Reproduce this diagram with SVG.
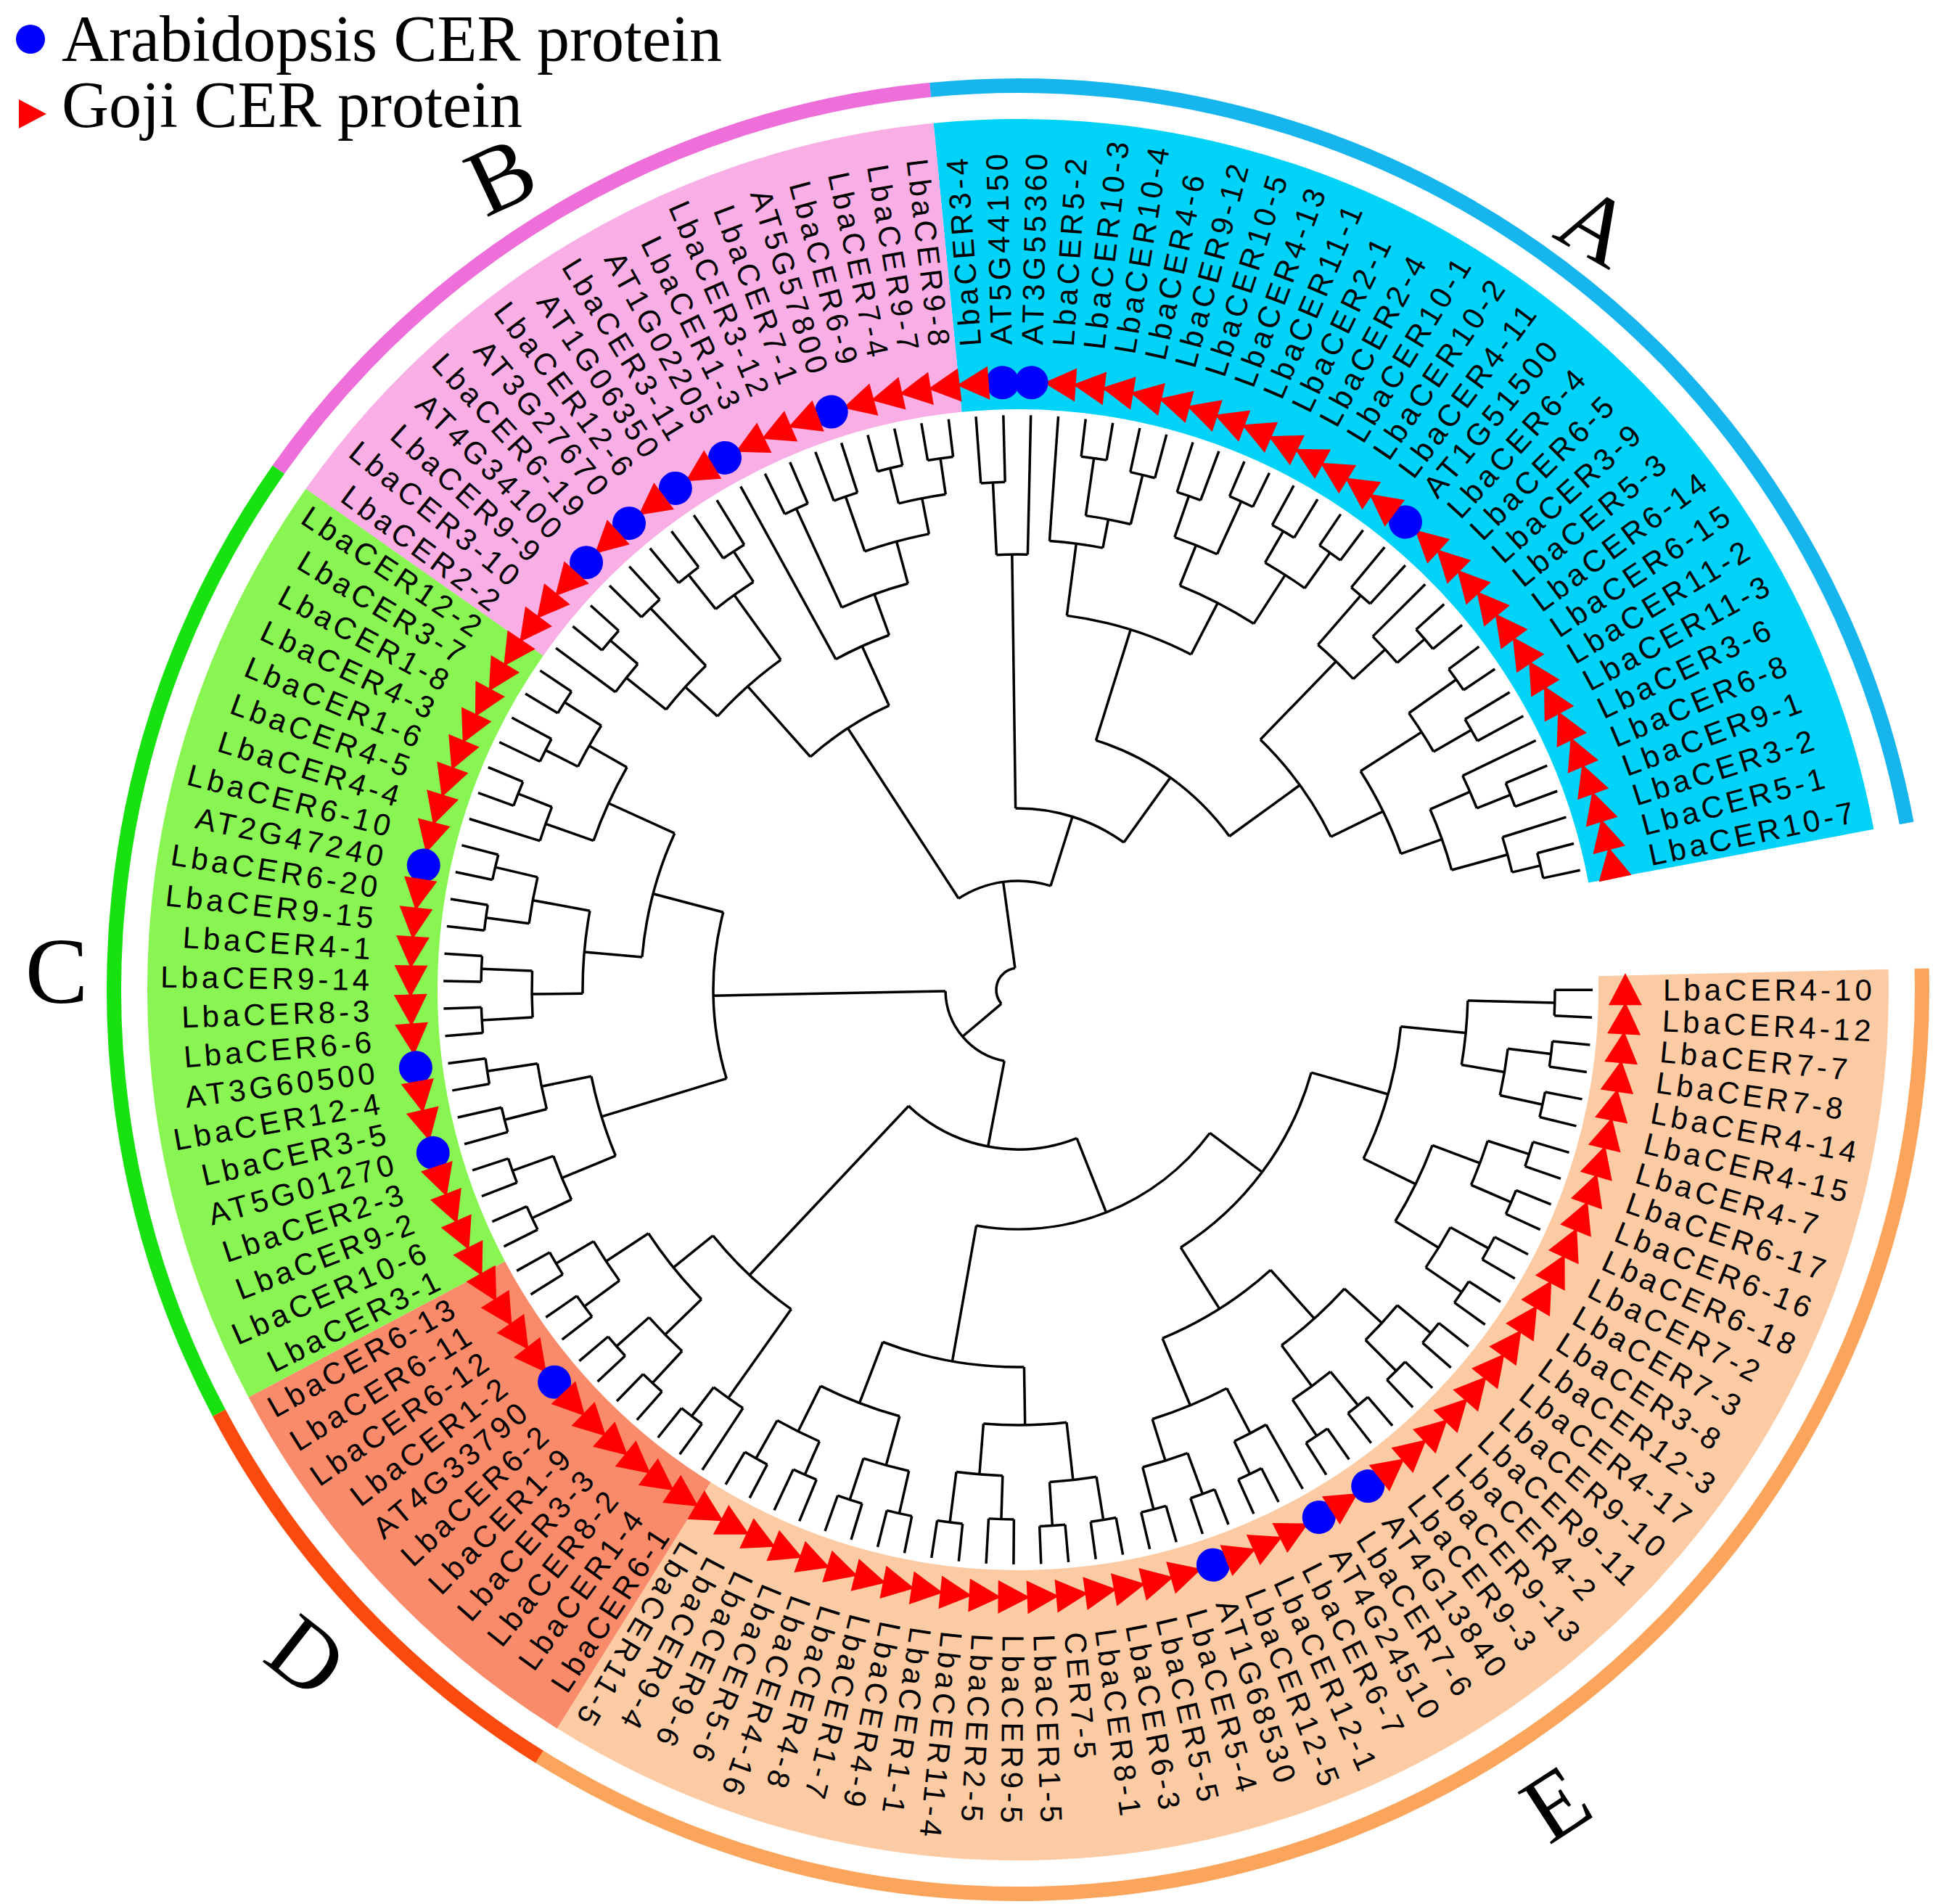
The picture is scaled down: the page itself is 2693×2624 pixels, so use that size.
<svg xmlns="http://www.w3.org/2000/svg" width="2693" height="2624" viewBox="0 0 2693 2624">
<style>
.bg{fill:none;stroke-width:400}
.rg{fill:none;stroke-width:20}
#tree path,#tree circle{fill:none;stroke:#000;stroke-width:3.5}
.t{fill:#f00}
.c{fill:#00f}
text.l{font-family:"Liberation Sans",Arial,sans-serif;font-size:42px;letter-spacing:5px;dominant-baseline:central;fill:#000}
text.r{font-family:"Liberation Sans",Arial,sans-serif;font-size:42px;letter-spacing:5px;dominant-baseline:central;text-anchor:end;fill:#000}
.cl{font-family:"Liberation Serif","Times New Roman",serif;font-size:130px;text-anchor:middle;dominant-baseline:central;fill:#000}
.lg{font-family:"Liberation Serif","Times New Roman",serif;font-size:90px;fill:#000}
</style>
<rect width="2693" height="2624" fill="#fff"/>
<g id="sectors" transform="translate(1403,1364)">
<circle class="bg" r="1000" stroke="#00d2f8" stroke-dasharray="1482.5 9999" transform="rotate(-95.57)"/>
<circle class="bg" r="1000" stroke="#f9afe5" stroke-dasharray="860.8 9999" transform="rotate(-144.89)"/>
<circle class="bg" r="1000" stroke="#88f552" stroke-dasharray="1099.9 9999" transform="rotate(-207.91)"/>
<circle class="bg" r="1000" stroke="#f98b6a" stroke-dasharray="526 9999" transform="rotate(-238.05)"/>
<circle class="bg" r="1000" stroke="#fdcba3" stroke-dasharray="2152 9999" transform="rotate(-361.35)"/>
</g>
<g id="rings" transform="translate(1403,1364)">
<circle class="rg" r="1246" stroke="#17b5ee" stroke-dasharray="1847.2 9999" transform="rotate(-95.57)"/>
<circle class="rg" r="1246" stroke="#ee6fd9" stroke-dasharray="1072.5 9999" transform="rotate(-144.89)"/>
<circle class="rg" r="1246" stroke="#17e10f" stroke-dasharray="1370.5 9999" transform="rotate(-207.91)"/>
<circle class="rg" r="1246" stroke="#fb4a0e" stroke-dasharray="655.4 9999" transform="rotate(-238.05)"/>
<circle class="rg" r="1246" stroke="#fba55c" stroke-dasharray="2681.4 9999" transform="rotate(-361.35)"/>
</g>
<g id="tree" transform="translate(1403,1364)">
<circle r="740" stroke-dasharray="35.39 9999" transform="rotate(-14.74)"/><path d="M740 0H792" transform="rotate(-12)"/><path d="M740 0H792" transform="rotate(-14.74)"/>
<circle r="700" stroke-dasharray="50.21 9999" transform="rotate(-17.48)"/><path d="M700 0H740" transform="rotate(-13.37)"/><path d="M700 0H792" transform="rotate(-17.48)"/>
<circle r="730" stroke-dasharray="34.91 9999" transform="rotate(-22.96)"/><path d="M730 0H792" transform="rotate(-20.22)"/><path d="M730 0H792" transform="rotate(-22.96)"/>
<circle r="680" stroke-dasharray="48.78 9999" transform="rotate(-25.7)"/><path d="M680 0H730" transform="rotate(-21.59)"/><path d="M680 0H792" transform="rotate(-25.7)"/>
<circle r="620" stroke-dasharray="88.95 9999" transform="rotate(-23.65)"/><path d="M620 0H700" transform="rotate(-15.43)"/><path d="M620 0H680" transform="rotate(-23.65)"/>
<circle r="720" stroke-dasharray="34.43 9999" transform="rotate(-31.18)"/><path d="M720 0H792" transform="rotate(-28.44)"/><path d="M720 0H792" transform="rotate(-31.18)"/>
<circle r="740" stroke-dasharray="35.39 9999" transform="rotate(-36.66)"/><path d="M740 0H792" transform="rotate(-33.92)"/><path d="M740 0H792" transform="rotate(-36.66)"/>
<circle r="660" stroke-dasharray="63.13 9999" transform="rotate(-35.29)"/><path d="M660 0H720" transform="rotate(-29.81)"/><path d="M660 0H740" transform="rotate(-35.29)"/>
<circle r="560" stroke-dasharray="127.16 9999" transform="rotate(-32.55)"/><path d="M560 0H620" transform="rotate(-19.54)"/><path d="M560 0H660" transform="rotate(-32.55)"/>
<circle r="740" stroke-dasharray="35.39 9999" transform="rotate(-42.14)"/><path d="M740 0H792" transform="rotate(-39.4)"/><path d="M740 0H792" transform="rotate(-42.14)"/>
<circle r="690" stroke-dasharray="49.5 9999" transform="rotate(-44.88)"/><path d="M690 0H740" transform="rotate(-40.77)"/><path d="M690 0H792" transform="rotate(-44.88)"/>
<circle r="720" stroke-dasharray="34.43 9999" transform="rotate(-50.36)"/><path d="M720 0H792" transform="rotate(-47.62)"/><path d="M720 0H792" transform="rotate(-50.36)"/>
<circle r="630" stroke-dasharray="67.73 9999" transform="rotate(-48.99)"/><path d="M630 0H690" transform="rotate(-42.83)"/><path d="M630 0H720" transform="rotate(-48.99)"/>
<circle r="480" stroke-dasharray="166.38 9999" transform="rotate(-45.91)"/><path d="M480 0H560" transform="rotate(-26.05)"/><path d="M480 0H630" transform="rotate(-45.91)"/>
<circle r="740" stroke-dasharray="35.39 9999" transform="rotate(-55.84)"/><path d="M740 0H792" transform="rotate(-53.1)"/><path d="M740 0H792" transform="rotate(-55.84)"/>
<circle r="730" stroke-dasharray="34.91 9999" transform="rotate(-61.32)"/><path d="M730 0H792" transform="rotate(-58.58)"/><path d="M730 0H792" transform="rotate(-61.32)"/>
<circle r="680" stroke-dasharray="65.04 9999" transform="rotate(-59.95)"/><path d="M680 0H740" transform="rotate(-54.47)"/><path d="M680 0H730" transform="rotate(-59.95)"/>
<circle r="740" stroke-dasharray="35.39 9999" transform="rotate(-66.8)"/><path d="M740 0H792" transform="rotate(-64.06)"/><path d="M740 0H792" transform="rotate(-66.8)"/>
<circle r="720" stroke-dasharray="34.43 9999" transform="rotate(-72.28)"/><path d="M720 0H792" transform="rotate(-69.54)"/><path d="M720 0H792" transform="rotate(-72.28)"/>
<circle r="660" stroke-dasharray="63.13 9999" transform="rotate(-70.91)"/><path d="M660 0H740" transform="rotate(-65.43)"/><path d="M660 0H720" transform="rotate(-70.91)"/>
<circle r="600" stroke-dasharray="114.77 9999" transform="rotate(-68.17)"/><path d="M600 0H680" transform="rotate(-57.21)"/><path d="M600 0H660" transform="rotate(-68.17)"/>
<circle r="730" stroke-dasharray="34.91 9999" transform="rotate(-77.76)"/><path d="M730 0H792" transform="rotate(-75.02)"/><path d="M730 0H792" transform="rotate(-77.76)"/>
<circle r="740" stroke-dasharray="35.39 9999" transform="rotate(-83.24)"/><path d="M740 0H792" transform="rotate(-80.5)"/><path d="M740 0H792" transform="rotate(-83.24)"/>
<circle r="660" stroke-dasharray="63.13 9999" transform="rotate(-81.87)"/><path d="M660 0H730" transform="rotate(-76.39)"/><path d="M660 0H740" transform="rotate(-81.87)"/>
<circle r="620" stroke-dasharray="74.12 9999" transform="rotate(-85.98)"/><path d="M620 0H660" transform="rotate(-79.13)"/><path d="M620 0H792" transform="rotate(-85.98)"/>
<circle r="520" stroke-dasharray="180.33 9999" transform="rotate(-82.56)"/><path d="M520 0H600" transform="rotate(-62.69)"/><path d="M520 0H620" transform="rotate(-82.56)"/>
<circle r="360" stroke-dasharray="230.28 9999" transform="rotate(-72.63)"/><path d="M360 0H480" transform="rotate(-35.98)"/><path d="M360 0H520" transform="rotate(-72.63)"/>
<circle r="700" stroke-dasharray="33.48 9999" transform="rotate(-94.2)"/><path d="M700 0H792" transform="rotate(-91.46)"/><path d="M700 0H792" transform="rotate(-94.2)"/>
<circle r="600" stroke-dasharray="43.04 9999" transform="rotate(-92.83)"/><path d="M600 0H792" transform="rotate(-88.72)"/><path d="M600 0H700" transform="rotate(-92.83)"/>
<circle r="250" stroke-dasharray="159.13 9999" transform="rotate(-90.78)"/><path d="M250 0H360" transform="rotate(-54.31)"/><path d="M250 0H600" transform="rotate(-90.78)"/>
<circle r="740" stroke-dasharray="35.39 9999" transform="rotate(-99.68)"/><path d="M740 0H792" transform="rotate(-96.94)"/><path d="M740 0H792" transform="rotate(-99.68)"/>
<circle r="740" stroke-dasharray="35.39 9999" transform="rotate(-105.16)"/><path d="M740 0H792" transform="rotate(-102.42)"/><path d="M740 0H792" transform="rotate(-105.16)"/>
<circle r="690" stroke-dasharray="66 9999" transform="rotate(-103.79)"/><path d="M690 0H740" transform="rotate(-98.31)"/><path d="M690 0H740" transform="rotate(-103.79)"/>
<circle r="720" stroke-dasharray="34.43 9999" transform="rotate(-110.64)"/><path d="M720 0H792" transform="rotate(-107.9)"/><path d="M720 0H792" transform="rotate(-110.64)"/>
<circle r="640" stroke-dasharray="91.82 9999" transform="rotate(-109.27)"/><path d="M640 0H690" transform="rotate(-101.05)"/><path d="M640 0H720" transform="rotate(-109.27)"/>
<circle r="730" stroke-dasharray="34.91 9999" transform="rotate(-116.12)"/><path d="M730 0H792" transform="rotate(-113.38)"/><path d="M730 0H792" transform="rotate(-116.12)"/>
<circle r="580" stroke-dasharray="97.08 9999" transform="rotate(-114.75)"/><path d="M580 0H640" transform="rotate(-105.16)"/><path d="M580 0H730" transform="rotate(-114.75)"/>
<circle r="520" stroke-dasharray="80.77 9999" transform="rotate(-118.86)"/><path d="M520 0H580" transform="rotate(-109.96)"/><path d="M520 0H792" transform="rotate(-118.86)"/>
<circle r="720" stroke-dasharray="34.43 9999" transform="rotate(-124.34)"/><path d="M720 0H792" transform="rotate(-121.6)"/><path d="M720 0H792" transform="rotate(-124.34)"/>
<circle r="730" stroke-dasharray="34.91 9999" transform="rotate(-129.82)"/><path d="M730 0H792" transform="rotate(-127.08)"/><path d="M730 0H792" transform="rotate(-129.82)"/>
<circle r="670" stroke-dasharray="64.08 9999" transform="rotate(-128.45)"/><path d="M670 0H720" transform="rotate(-122.97)"/><path d="M670 0H730" transform="rotate(-128.45)"/>
<circle r="730" stroke-dasharray="34.91 9999" transform="rotate(-135.3)"/><path d="M730 0H792" transform="rotate(-132.56)"/><path d="M730 0H792" transform="rotate(-135.3)"/>
<circle r="740" stroke-dasharray="35.39 9999" transform="rotate(-140.78)"/><path d="M740 0H792" transform="rotate(-138.04)"/><path d="M740 0H792" transform="rotate(-140.78)"/>
<circle r="690" stroke-dasharray="49.5 9999" transform="rotate(-143.52)"/><path d="M690 0H740" transform="rotate(-139.41)"/><path d="M690 0H792" transform="rotate(-143.52)"/>
<circle r="620" stroke-dasharray="81.59 9999" transform="rotate(-141.47)"/><path d="M620 0H730" transform="rotate(-133.93)"/><path d="M620 0H690" transform="rotate(-141.47)"/>
<circle r="560" stroke-dasharray="117.19 9999" transform="rotate(-137.7)"/><path d="M560 0H670" transform="rotate(-125.71)"/><path d="M560 0H620" transform="rotate(-137.7)"/>
<circle r="430" stroke-dasharray="129.84 9999" transform="rotate(-131.71)"/><path d="M430 0H520" transform="rotate(-114.41)"/><path d="M430 0H560" transform="rotate(-131.71)"/>
<circle r="150" stroke-dasharray="132.23 9999" transform="rotate(-123.06)"/><path d="M150 0H250" transform="rotate(-72.55)"/><path d="M150 0H430" transform="rotate(-123.06)"/>
<circle r="740" stroke-dasharray="35.39 9999" transform="rotate(-149)"/><path d="M740 0H792" transform="rotate(-146.26)"/><path d="M740 0H792" transform="rotate(-149)"/>
<circle r="730" stroke-dasharray="34.91 9999" transform="rotate(-154.48)"/><path d="M730 0H792" transform="rotate(-151.74)"/><path d="M730 0H792" transform="rotate(-154.48)"/>
<circle r="680" stroke-dasharray="65.04 9999" transform="rotate(-153.11)"/><path d="M680 0H740" transform="rotate(-147.63)"/><path d="M680 0H730" transform="rotate(-153.11)"/>
<circle r="740" stroke-dasharray="35.39 9999" transform="rotate(-159.96)"/><path d="M740 0H792" transform="rotate(-157.22)"/><path d="M740 0H792" transform="rotate(-159.96)"/>
<circle r="690" stroke-dasharray="49.5 9999" transform="rotate(-162.7)"/><path d="M690 0H740" transform="rotate(-158.59)"/><path d="M690 0H792" transform="rotate(-162.7)"/>
<circle r="620" stroke-dasharray="111.24 9999" transform="rotate(-160.65)"/><path d="M620 0H680" transform="rotate(-150.37)"/><path d="M620 0H690" transform="rotate(-160.65)"/>
<circle r="740" stroke-dasharray="35.39 9999" transform="rotate(-168.18)"/><path d="M740 0H792" transform="rotate(-165.44)"/><path d="M740 0H792" transform="rotate(-168.18)"/>
<circle r="740" stroke-dasharray="35.39 9999" transform="rotate(-173.66)"/><path d="M740 0H792" transform="rotate(-170.92)"/><path d="M740 0H792" transform="rotate(-173.66)"/>
<circle r="680" stroke-dasharray="65.04 9999" transform="rotate(-172.29)"/><path d="M680 0H740" transform="rotate(-166.81)"/><path d="M680 0H740" transform="rotate(-172.29)"/>
<circle r="740" stroke-dasharray="35.39 9999" transform="rotate(-179.14)"/><path d="M740 0H792" transform="rotate(-176.4)"/><path d="M740 0H792" transform="rotate(-179.14)"/>
<circle r="740" stroke-dasharray="35.39 9999" transform="rotate(-184.62)"/><path d="M740 0H792" transform="rotate(-181.88)"/><path d="M740 0H792" transform="rotate(-184.62)"/>
<circle r="670" stroke-dasharray="64.08 9999" transform="rotate(-183.25)"/><path d="M670 0H740" transform="rotate(-177.77)"/><path d="M670 0H740" transform="rotate(-183.25)"/>
<circle r="600" stroke-dasharray="114.77 9999" transform="rotate(-180.51)"/><path d="M600 0H680" transform="rotate(-169.55)"/><path d="M600 0H670" transform="rotate(-180.51)"/>
<circle r="520" stroke-dasharray="177.16 9999" transform="rotate(-175.03)"/><path d="M520 0H620" transform="rotate(-155.51)"/><path d="M520 0H600" transform="rotate(-175.03)"/>
<circle r="740" stroke-dasharray="35.39 9999" transform="rotate(-190.1)"/><path d="M740 0H792" transform="rotate(-187.36)"/><path d="M740 0H792" transform="rotate(-190.1)"/>
<circle r="730" stroke-dasharray="34.91 9999" transform="rotate(-195.58)"/><path d="M730 0H792" transform="rotate(-192.84)"/><path d="M730 0H792" transform="rotate(-195.58)"/>
<circle r="670" stroke-dasharray="64.08 9999" transform="rotate(-194.21)"/><path d="M670 0H740" transform="rotate(-188.73)"/><path d="M670 0H730" transform="rotate(-194.21)"/>
<circle r="740" stroke-dasharray="35.39 9999" transform="rotate(-201.06)"/><path d="M740 0H792" transform="rotate(-198.32)"/><path d="M740 0H792" transform="rotate(-201.06)"/>
<circle r="740" stroke-dasharray="35.39 9999" transform="rotate(-206.54)"/><path d="M740 0H792" transform="rotate(-203.8)"/><path d="M740 0H792" transform="rotate(-206.54)"/>
<circle r="680" stroke-dasharray="65.04 9999" transform="rotate(-205.17)"/><path d="M680 0H740" transform="rotate(-199.69)"/><path d="M680 0H740" transform="rotate(-205.17)"/>
<circle r="600" stroke-dasharray="114.77 9999" transform="rotate(-202.43)"/><path d="M600 0H670" transform="rotate(-191.47)"/><path d="M600 0H680" transform="rotate(-202.43)"/>
<circle r="420" stroke-dasharray="232.23 9999" transform="rotate(-196.95)"/><path d="M420 0H520" transform="rotate(-165.27)"/><path d="M420 0H600" transform="rotate(-196.95)"/>
<circle r="740" stroke-dasharray="35.39 9999" transform="rotate(-212.02)"/><path d="M740 0H792" transform="rotate(-209.28)"/><path d="M740 0H792" transform="rotate(-212.02)"/>
<circle r="740" stroke-dasharray="35.39 9999" transform="rotate(-217.5)"/><path d="M740 0H792" transform="rotate(-214.76)"/><path d="M740 0H792" transform="rotate(-217.5)"/>
<circle r="680" stroke-dasharray="65.04 9999" transform="rotate(-216.13)"/><path d="M680 0H740" transform="rotate(-210.65)"/><path d="M680 0H740" transform="rotate(-216.13)"/>
<circle r="740" stroke-dasharray="35.39 9999" transform="rotate(-222.98)"/><path d="M740 0H792" transform="rotate(-220.24)"/><path d="M740 0H792" transform="rotate(-222.98)"/>
<circle r="740" stroke-dasharray="35.39 9999" transform="rotate(-228.46)"/><path d="M740 0H792" transform="rotate(-225.72)"/><path d="M740 0H792" transform="rotate(-228.46)"/>
<circle r="680" stroke-dasharray="65.04 9999" transform="rotate(-227.09)"/><path d="M680 0H740" transform="rotate(-221.61)"/><path d="M680 0H740" transform="rotate(-227.09)"/>
<circle r="610" stroke-dasharray="116.69 9999" transform="rotate(-224.35)"/><path d="M610 0H680" transform="rotate(-213.39)"/><path d="M610 0H680" transform="rotate(-224.35)"/>
<circle r="740" stroke-dasharray="35.39 9999" transform="rotate(-233.94)"/><path d="M740 0H792" transform="rotate(-231.2)"/><path d="M740 0H792" transform="rotate(-233.94)"/>
<circle r="690" stroke-dasharray="49.5 9999" transform="rotate(-236.68)"/><path d="M690 0H740" transform="rotate(-232.57)"/><path d="M690 0H792" transform="rotate(-236.68)"/>
<circle r="540" stroke-dasharray="148.53 9999" transform="rotate(-234.63)"/><path d="M540 0H610" transform="rotate(-218.87)"/><path d="M540 0H690" transform="rotate(-234.63)"/>
<circle r="740" stroke-dasharray="35.39 9999" transform="rotate(-242.16)"/><path d="M740 0H792" transform="rotate(-239.42)"/><path d="M740 0H792" transform="rotate(-242.16)"/>
<circle r="730" stroke-dasharray="34.91 9999" transform="rotate(-247.64)"/><path d="M730 0H792" transform="rotate(-244.9)"/><path d="M730 0H792" transform="rotate(-247.64)"/>
<circle r="680" stroke-dasharray="65.04 9999" transform="rotate(-246.27)"/><path d="M680 0H740" transform="rotate(-240.79)"/><path d="M680 0H730" transform="rotate(-246.27)"/>
<circle r="740" stroke-dasharray="35.39 9999" transform="rotate(-253.12)"/><path d="M740 0H792" transform="rotate(-250.38)"/><path d="M740 0H792" transform="rotate(-253.12)"/>
<circle r="740" stroke-dasharray="35.39 9999" transform="rotate(-258.6)"/><path d="M740 0H792" transform="rotate(-255.86)"/><path d="M740 0H792" transform="rotate(-258.6)"/>
<circle r="680" stroke-dasharray="65.04 9999" transform="rotate(-257.23)"/><path d="M680 0H740" transform="rotate(-251.75)"/><path d="M680 0H740" transform="rotate(-257.23)"/>
<circle r="610" stroke-dasharray="116.69 9999" transform="rotate(-254.49)"/><path d="M610 0H680" transform="rotate(-243.53)"/><path d="M610 0H680" transform="rotate(-254.49)"/>
<circle r="740" stroke-dasharray="35.39 9999" transform="rotate(-264.08)"/><path d="M740 0H792" transform="rotate(-261.34)"/><path d="M740 0H792" transform="rotate(-264.08)"/>
<circle r="730" stroke-dasharray="34.91 9999" transform="rotate(-269.56)"/><path d="M730 0H792" transform="rotate(-266.82)"/><path d="M730 0H792" transform="rotate(-269.56)"/>
<circle r="670" stroke-dasharray="64.08 9999" transform="rotate(-268.19)"/><path d="M670 0H740" transform="rotate(-262.71)"/><path d="M670 0H730" transform="rotate(-268.19)"/>
<circle r="740" stroke-dasharray="35.39 9999" transform="rotate(-275.04)"/><path d="M740 0H792" transform="rotate(-272.3)"/><path d="M740 0H792" transform="rotate(-275.04)"/>
<circle r="740" stroke-dasharray="35.39 9999" transform="rotate(-280.52)"/><path d="M740 0H792" transform="rotate(-277.78)"/><path d="M740 0H792" transform="rotate(-280.52)"/>
<circle r="680" stroke-dasharray="65.04 9999" transform="rotate(-279.15)"/><path d="M680 0H740" transform="rotate(-273.67)"/><path d="M680 0H740" transform="rotate(-279.15)"/>
<circle r="600" stroke-dasharray="114.77 9999" transform="rotate(-276.41)"/><path d="M600 0H670" transform="rotate(-265.45)"/><path d="M600 0H680" transform="rotate(-276.41)"/>
<circle r="520" stroke-dasharray="198.94 9999" transform="rotate(-270.93)"/><path d="M520 0H610" transform="rotate(-249.01)"/><path d="M520 0H600" transform="rotate(-270.93)"/>
<circle r="740" stroke-dasharray="35.39 9999" transform="rotate(-286)"/><path d="M740 0H792" transform="rotate(-283.26)"/><path d="M740 0H792" transform="rotate(-286)"/>
<circle r="740" stroke-dasharray="35.39 9999" transform="rotate(-291.48)"/><path d="M740 0H792" transform="rotate(-288.74)"/><path d="M740 0H792" transform="rotate(-291.48)"/>
<circle r="680" stroke-dasharray="65.04 9999" transform="rotate(-290.11)"/><path d="M680 0H740" transform="rotate(-284.63)"/><path d="M680 0H740" transform="rotate(-290.11)"/>
<circle r="740" stroke-dasharray="35.39 9999" transform="rotate(-296.96)"/><path d="M740 0H792" transform="rotate(-294.22)"/><path d="M740 0H792" transform="rotate(-296.96)"/>
<circle r="690" stroke-dasharray="49.5 9999" transform="rotate(-299.7)"/><path d="M690 0H740" transform="rotate(-295.59)"/><path d="M690 0H792" transform="rotate(-299.7)"/>
<circle r="620" stroke-dasharray="111.24 9999" transform="rotate(-297.65)"/><path d="M620 0H680" transform="rotate(-287.37)"/><path d="M620 0H690" transform="rotate(-297.65)"/>
<circle r="740" stroke-dasharray="35.39 9999" transform="rotate(-305.18)"/><path d="M740 0H792" transform="rotate(-302.44)"/><path d="M740 0H792" transform="rotate(-305.18)"/>
<circle r="740" stroke-dasharray="35.39 9999" transform="rotate(-310.66)"/><path d="M740 0H792" transform="rotate(-307.92)"/><path d="M740 0H792" transform="rotate(-310.66)"/>
<circle r="680" stroke-dasharray="65.04 9999" transform="rotate(-309.29)"/><path d="M680 0H740" transform="rotate(-303.81)"/><path d="M680 0H740" transform="rotate(-309.29)"/>
<circle r="740" stroke-dasharray="35.39 9999" transform="rotate(-316.14)"/><path d="M740 0H792" transform="rotate(-313.4)"/><path d="M740 0H792" transform="rotate(-316.14)"/>
<circle r="740" stroke-dasharray="35.39 9999" transform="rotate(-321.62)"/><path d="M740 0H792" transform="rotate(-318.88)"/><path d="M740 0H792" transform="rotate(-321.62)"/>
<circle r="680" stroke-dasharray="65.04 9999" transform="rotate(-320.25)"/><path d="M680 0H740" transform="rotate(-314.77)"/><path d="M680 0H740" transform="rotate(-320.25)"/>
<circle r="610" stroke-dasharray="116.69 9999" transform="rotate(-317.51)"/><path d="M610 0H680" transform="rotate(-306.55)"/><path d="M610 0H680" transform="rotate(-317.51)"/>
<circle r="520" stroke-dasharray="177.16 9999" transform="rotate(-312.03)"/><path d="M520 0H620" transform="rotate(-292.51)"/><path d="M520 0H610" transform="rotate(-312.03)"/>
<circle r="740" stroke-dasharray="35.39 9999" transform="rotate(-327.1)"/><path d="M740 0H792" transform="rotate(-324.36)"/><path d="M740 0H792" transform="rotate(-327.1)"/>
<circle r="740" stroke-dasharray="35.39 9999" transform="rotate(-332.58)"/><path d="M740 0H792" transform="rotate(-329.84)"/><path d="M740 0H792" transform="rotate(-332.58)"/>
<circle r="680" stroke-dasharray="65.04 9999" transform="rotate(-331.21)"/><path d="M680 0H740" transform="rotate(-325.73)"/><path d="M680 0H740" transform="rotate(-331.21)"/>
<circle r="740" stroke-dasharray="35.39 9999" transform="rotate(-338.06)"/><path d="M740 0H792" transform="rotate(-335.32)"/><path d="M740 0H792" transform="rotate(-338.06)"/>
<circle r="740" stroke-dasharray="35.39 9999" transform="rotate(-343.54)"/><path d="M740 0H792" transform="rotate(-340.8)"/><path d="M740 0H792" transform="rotate(-343.54)"/>
<circle r="680" stroke-dasharray="65.04 9999" transform="rotate(-342.17)"/><path d="M680 0H740" transform="rotate(-336.69)"/><path d="M680 0H740" transform="rotate(-342.17)"/>
<circle r="610" stroke-dasharray="116.69 9999" transform="rotate(-339.43)"/><path d="M610 0H680" transform="rotate(-328.47)"/><path d="M610 0H680" transform="rotate(-339.43)"/>
<circle r="740" stroke-dasharray="35.39 9999" transform="rotate(-349.02)"/><path d="M740 0H792" transform="rotate(-346.28)"/><path d="M740 0H792" transform="rotate(-349.02)"/>
<circle r="740" stroke-dasharray="35.39 9999" transform="rotate(-354.5)"/><path d="M740 0H792" transform="rotate(-351.76)"/><path d="M740 0H792" transform="rotate(-354.5)"/>
<circle r="680" stroke-dasharray="65.04 9999" transform="rotate(-353.13)"/><path d="M680 0H740" transform="rotate(-347.65)"/><path d="M680 0H740" transform="rotate(-353.13)"/>
<circle r="740" stroke-dasharray="35.39 9999" transform="rotate(-359.98)"/><path d="M740 0H792" transform="rotate(-357.24)"/><path d="M740 0H792" transform="rotate(-359.98)"/>
<circle r="620" stroke-dasharray="88.95 9999" transform="rotate(-358.61)"/><path d="M620 0H680" transform="rotate(-350.39)"/><path d="M620 0H740" transform="rotate(-358.61)"/>
<circle r="530" stroke-dasharray="190.09 9999" transform="rotate(-354.5)"/><path d="M530 0H610" transform="rotate(-333.95)"/><path d="M530 0H620" transform="rotate(-354.5)"/>
<circle r="420" stroke-dasharray="307.58 9999" transform="rotate(-344.23)"/><path d="M420 0H520" transform="rotate(-302.27)"/><path d="M420 0H530" transform="rotate(-344.23)"/>
<circle r="330" stroke-dasharray="364.47 9999" transform="rotate(-323.25)"/><path d="M330 0H520" transform="rotate(-259.97)"/><path d="M330 0H420" transform="rotate(-323.25)"/>
<circle r="220" stroke-dasharray="249.04 9999" transform="rotate(-291.61)"/><path d="M220 0H540" transform="rotate(-226.75)"/><path d="M220 0H330" transform="rotate(-291.61)"/>
<circle r="100" stroke-dasharray="136.26 9999" transform="rotate(-259.18)"/><path d="M100 0H420" transform="rotate(-181.11)"/><path d="M100 0H220" transform="rotate(-259.18)"/>
<circle r="30" stroke-dasharray="64.06 9999" transform="rotate(-220.15)"/><path d="M30 0H150" transform="rotate(-97.81)"/><path d="M30 0H100" transform="rotate(-220.15)"/>
</g>
<g id="leaves" transform="translate(1403,1364)">
<defs><path id="tri" d="M837-23L814 21H860Z" fill="#f00"/><circle id="dot" cx="837" r="23" fill="#00f"/></defs>
<g transform="rotate(-12)"><use href="#tri"/><text class="l" x="889">LbaCER10-7</text></g>
<g transform="rotate(-14.74)"><use href="#tri"/><text class="l" x="889">LbaCER5-1</text></g>
<g transform="rotate(-17.48)"><use href="#tri"/><text class="l" x="889">LbaCER3-2</text></g>
<g transform="rotate(-20.22)"><use href="#tri"/><text class="l" x="889">LbaCER9-1</text></g>
<g transform="rotate(-22.96)"><use href="#tri"/><text class="l" x="889">LbaCER6-8</text></g>
<g transform="rotate(-25.7)"><use href="#tri"/><text class="l" x="889">LbaCER3-6</text></g>
<g transform="rotate(-28.44)"><use href="#tri"/><text class="l" x="889">LbaCER11-3</text></g>
<g transform="rotate(-31.18)"><use href="#tri"/><text class="l" x="889">LbaCER11-2</text></g>
<g transform="rotate(-33.92)"><use href="#tri"/><text class="l" x="889">LbaCER6-15</text></g>
<g transform="rotate(-36.66)"><use href="#tri"/><text class="l" x="889">LbaCER6-14</text></g>
<g transform="rotate(-39.4)"><use href="#tri"/><text class="l" x="889">LbaCER5-3</text></g>
<g transform="rotate(-42.14)"><use href="#tri"/><text class="l" x="889">LbaCER3-9</text></g>
<g transform="rotate(-44.88)"><use href="#tri"/><text class="l" x="889">LbaCER6-5</text></g>
<g transform="rotate(-47.62)"><use href="#tri"/><text class="l" x="889">LbaCER6-4</text></g>
<g transform="rotate(-50.36)"><use href="#dot"/><text class="l" x="889">AT1G51500</text></g>
<g transform="rotate(-53.1)"><use href="#tri"/><text class="l" x="889">LbaCER4-11</text></g>
<g transform="rotate(-55.84)"><use href="#tri"/><text class="l" x="889">LbaCER10-2</text></g>
<g transform="rotate(-58.58)"><use href="#tri"/><text class="l" x="889">LbaCER10-1</text></g>
<g transform="rotate(-61.32)"><use href="#tri"/><text class="l" x="889">LbaCER2-4</text></g>
<g transform="rotate(-64.06)"><use href="#tri"/><text class="l" x="889">LbaCER2-1</text></g>
<g transform="rotate(-66.8)"><use href="#tri"/><text class="l" x="889">LbaCER11-1</text></g>
<g transform="rotate(-69.54)"><use href="#tri"/><text class="l" x="889">LbaCER4-13</text></g>
<g transform="rotate(-72.28)"><use href="#tri"/><text class="l" x="889">LbaCER10-5</text></g>
<g transform="rotate(-75.02)"><use href="#tri"/><text class="l" x="889">LbaCER9-12</text></g>
<g transform="rotate(-77.76)"><use href="#tri"/><text class="l" x="889">LbaCER4-6</text></g>
<g transform="rotate(-80.5)"><use href="#tri"/><text class="l" x="889">LbaCER10-4</text></g>
<g transform="rotate(-83.24)"><use href="#tri"/><text class="l" x="889">LbaCER10-3</text></g>
<g transform="rotate(-85.98)"><use href="#tri"/><text class="l" x="889">LbaCER5-2</text></g>
<g transform="rotate(-88.72)"><use href="#dot"/><text class="l" x="889">AT3G55360</text></g>
<g transform="rotate(-91.46)"><use href="#dot"/><text class="l" x="889">AT5G44150</text></g>
<g transform="rotate(-94.2)"><use href="#tri"/><text class="l" x="889">LbaCER3-4</text></g>
<g transform="rotate(-96.94)"><use href="#tri"/><text class="r" x="-889" transform="rotate(180)">LbaCER9-8</text></g>
<g transform="rotate(-99.68)"><use href="#tri"/><text class="r" x="-889" transform="rotate(180)">LbaCER9-7</text></g>
<g transform="rotate(-102.42)"><use href="#tri"/><text class="r" x="-889" transform="rotate(180)">LbaCER7-4</text></g>
<g transform="rotate(-105.16)"><use href="#tri"/><text class="r" x="-889" transform="rotate(180)">LbaCER6-9</text></g>
<g transform="rotate(-107.9)"><use href="#dot"/><text class="r" x="-889" transform="rotate(180)">AT5G57800</text></g>
<g transform="rotate(-110.64)"><use href="#tri"/><text class="r" x="-889" transform="rotate(180)">LbaCER7-1</text></g>
<g transform="rotate(-113.38)"><use href="#tri"/><text class="r" x="-889" transform="rotate(180)">LbaCER3-12</text></g>
<g transform="rotate(-116.12)"><use href="#tri"/><text class="r" x="-889" transform="rotate(180)">LbaCER1-3</text></g>
<g transform="rotate(-118.86)"><use href="#dot"/><text class="r" x="-889" transform="rotate(180)">AT1G02205</text></g>
<g transform="rotate(-121.6)"><use href="#tri"/><text class="r" x="-889" transform="rotate(180)">LbaCER3-11</text></g>
<g transform="rotate(-124.34)"><use href="#dot"/><text class="r" x="-889" transform="rotate(180)">AT1G06350</text></g>
<g transform="rotate(-127.08)"><use href="#tri"/><text class="r" x="-889" transform="rotate(180)">LbaCER12-6</text></g>
<g transform="rotate(-129.82)"><use href="#dot"/><text class="r" x="-889" transform="rotate(180)">AT3G27670</text></g>
<g transform="rotate(-132.56)"><use href="#tri"/><text class="r" x="-889" transform="rotate(180)">LbaCER6-19</text></g>
<g transform="rotate(-135.3)"><use href="#dot"/><text class="r" x="-889" transform="rotate(180)">AT4G34100</text></g>
<g transform="rotate(-138.04)"><use href="#tri"/><text class="r" x="-889" transform="rotate(180)">LbaCER9-9</text></g>
<g transform="rotate(-140.78)"><use href="#tri"/><text class="r" x="-889" transform="rotate(180)">LbaCER3-10</text></g>
<g transform="rotate(-143.52)"><use href="#tri"/><text class="r" x="-889" transform="rotate(180)">LbaCER2-2</text></g>
<g transform="rotate(-146.26)"><use href="#tri"/><text class="r" x="-889" transform="rotate(180)">LbaCER12-2</text></g>
<g transform="rotate(-149)"><use href="#tri"/><text class="r" x="-889" transform="rotate(180)">LbaCER3-7</text></g>
<g transform="rotate(-151.74)"><use href="#tri"/><text class="r" x="-889" transform="rotate(180)">LbaCER1-8</text></g>
<g transform="rotate(-154.48)"><use href="#tri"/><text class="r" x="-889" transform="rotate(180)">LbaCER4-3</text></g>
<g transform="rotate(-157.22)"><use href="#tri"/><text class="r" x="-889" transform="rotate(180)">LbaCER1-6</text></g>
<g transform="rotate(-159.96)"><use href="#tri"/><text class="r" x="-889" transform="rotate(180)">LbaCER4-5</text></g>
<g transform="rotate(-162.7)"><use href="#tri"/><text class="r" x="-889" transform="rotate(180)">LbaCER4-4</text></g>
<g transform="rotate(-165.44)"><use href="#tri"/><text class="r" x="-889" transform="rotate(180)">LbaCER6-10</text></g>
<g transform="rotate(-168.18)"><use href="#dot"/><text class="r" x="-889" transform="rotate(180)">AT2G47240</text></g>
<g transform="rotate(-170.92)"><use href="#tri"/><text class="r" x="-889" transform="rotate(180)">LbaCER6-20</text></g>
<g transform="rotate(-173.66)"><use href="#tri"/><text class="r" x="-889" transform="rotate(180)">LbaCER9-15</text></g>
<g transform="rotate(-176.4)"><use href="#tri"/><text class="r" x="-889" transform="rotate(180)">LbaCER4-1</text></g>
<g transform="rotate(-179.14)"><use href="#tri"/><text class="r" x="-889" transform="rotate(180)">LbaCER9-14</text></g>
<g transform="rotate(-181.88)"><use href="#tri"/><text class="r" x="-889" transform="rotate(180)">LbaCER8-3</text></g>
<g transform="rotate(-184.62)"><use href="#tri"/><text class="r" x="-889" transform="rotate(180)">LbaCER6-6</text></g>
<g transform="rotate(-187.36)"><use href="#dot"/><text class="r" x="-889" transform="rotate(180)">AT3G60500</text></g>
<g transform="rotate(-190.1)"><use href="#tri"/><text class="r" x="-889" transform="rotate(180)">LbaCER12-4</text></g>
<g transform="rotate(-192.84)"><use href="#tri"/><text class="r" x="-889" transform="rotate(180)">LbaCER3-5</text></g>
<g transform="rotate(-195.58)"><use href="#dot"/><text class="r" x="-889" transform="rotate(180)">AT5G01270</text></g>
<g transform="rotate(-198.32)"><use href="#tri"/><text class="r" x="-889" transform="rotate(180)">LbaCER2-3</text></g>
<g transform="rotate(-201.06)"><use href="#tri"/><text class="r" x="-889" transform="rotate(180)">LbaCER9-2</text></g>
<g transform="rotate(-203.8)"><use href="#tri"/><text class="r" x="-889" transform="rotate(180)">LbaCER10-6</text></g>
<g transform="rotate(-206.54)"><use href="#tri"/><text class="r" x="-889" transform="rotate(180)">LbaCER3-1</text></g>
<g transform="rotate(-209.28)"><use href="#tri"/><text class="r" x="-889" transform="rotate(180)">LbaCER6-13</text></g>
<g transform="rotate(-212.02)"><use href="#tri"/><text class="r" x="-889" transform="rotate(180)">LbaCER6-11</text></g>
<g transform="rotate(-214.76)"><use href="#tri"/><text class="r" x="-889" transform="rotate(180)">LbaCER6-12</text></g>
<g transform="rotate(-217.5)"><use href="#tri"/><text class="r" x="-889" transform="rotate(180)">LbaCER1-2</text></g>
<g transform="rotate(-220.24)"><use href="#dot"/><text class="r" x="-889" transform="rotate(180)">AT4G33790</text></g>
<g transform="rotate(-222.98)"><use href="#tri"/><text class="r" x="-889" transform="rotate(180)">LbaCER6-2</text></g>
<g transform="rotate(-225.72)"><use href="#tri"/><text class="r" x="-889" transform="rotate(180)">LbaCER1-9</text></g>
<g transform="rotate(-228.46)"><use href="#tri"/><text class="r" x="-889" transform="rotate(180)">LbaCER3-3</text></g>
<g transform="rotate(-231.2)"><use href="#tri"/><text class="r" x="-889" transform="rotate(180)">LbaCER8-2</text></g>
<g transform="rotate(-233.94)"><use href="#tri"/><text class="r" x="-889" transform="rotate(180)">LbaCER1-4</text></g>
<g transform="rotate(-236.68)"><use href="#tri"/><text class="r" x="-889" transform="rotate(180)">LbaCER6-1</text></g>
<g transform="rotate(-239.42)"><use href="#tri"/><text class="l" x="889">LbaCER11-5</text></g>
<g transform="rotate(-242.16)"><use href="#tri"/><text class="l" x="889">LbaCER9-4</text></g>
<g transform="rotate(-244.9)"><use href="#tri"/><text class="l" x="889">LbaCER9-6</text></g>
<g transform="rotate(-247.64)"><use href="#tri"/><text class="l" x="889">LbaCER5-6</text></g>
<g transform="rotate(-250.38)"><use href="#tri"/><text class="l" x="889">LbaCER4-16</text></g>
<g transform="rotate(-253.12)"><use href="#tri"/><text class="l" x="889">LbaCER4-8</text></g>
<g transform="rotate(-255.86)"><use href="#tri"/><text class="l" x="889">LbaCER1-7</text></g>
<g transform="rotate(-258.6)"><use href="#tri"/><text class="l" x="889">LbaCER4-9</text></g>
<g transform="rotate(-261.34)"><use href="#tri"/><text class="l" x="889">LbaCER1-1</text></g>
<g transform="rotate(-264.08)"><use href="#tri"/><text class="l" x="889">LbaCER11-4</text></g>
<g transform="rotate(-266.82)"><use href="#tri"/><text class="l" x="889">LbaCER2-5</text></g>
<g transform="rotate(-269.56)"><use href="#tri"/><text class="l" x="889">LbaCER9-5</text></g>
<g transform="rotate(-272.3)"><use href="#tri"/><text class="l" x="889">LbaCER1-5</text></g>
<g transform="rotate(-275.04)"><use href="#tri"/><text class="l" x="889">CER7-5</text></g>
<g transform="rotate(-277.78)"><use href="#tri"/><text class="l" x="889">LbaCER8-1</text></g>
<g transform="rotate(-280.52)"><use href="#tri"/><text class="l" x="889">LbaCER6-3</text></g>
<g transform="rotate(-283.26)"><use href="#tri"/><text class="l" x="889">LbaCER5-5</text></g>
<g transform="rotate(-286)"><use href="#tri"/><text class="l" x="889">LbaCER5-4</text></g>
<g transform="rotate(-288.74)"><use href="#dot"/><text class="l" x="889">AT1G68530</text></g>
<g transform="rotate(-291.48)"><use href="#tri"/><text class="l" x="889">LbaCER12-5</text></g>
<g transform="rotate(-294.22)"><use href="#tri"/><text class="l" x="889">LbaCER12-1</text></g>
<g transform="rotate(-296.96)"><use href="#tri"/><text class="l" x="889">LbaCER6-7</text></g>
<g transform="rotate(-299.7)"><use href="#dot"/><text class="l" x="889">AT4G24510</text></g>
<g transform="rotate(-302.44)"><use href="#tri"/><text class="l" x="889">LbaCER7-6</text></g>
<g transform="rotate(-305.18)"><use href="#dot"/><text class="l" x="889">AT4G13840</text></g>
<g transform="rotate(-307.92)"><use href="#tri"/><text class="l" x="889">LbaCER9-3</text></g>
<g transform="rotate(-310.66)"><use href="#tri"/><text class="l" x="889">LbaCER9-13</text></g>
<g transform="rotate(-313.4)"><use href="#tri"/><text class="l" x="889">LbaCER4-2</text></g>
<g transform="rotate(-316.14)"><use href="#tri"/><text class="l" x="889">LbaCER9-11</text></g>
<g transform="rotate(-318.88)"><use href="#tri"/><text class="l" x="889">LbaCER9-10</text></g>
<g transform="rotate(-321.62)"><use href="#tri"/><text class="l" x="889">LbaCER4-17</text></g>
<g transform="rotate(-324.36)"><use href="#tri"/><text class="l" x="889">LbaCER12-3</text></g>
<g transform="rotate(-327.1)"><use href="#tri"/><text class="l" x="889">LbaCER3-8</text></g>
<g transform="rotate(-329.84)"><use href="#tri"/><text class="l" x="889">LbaCER7-3</text></g>
<g transform="rotate(-332.58)"><use href="#tri"/><text class="l" x="889">LbaCER7-2</text></g>
<g transform="rotate(-335.32)"><use href="#tri"/><text class="l" x="889">LbaCER6-18</text></g>
<g transform="rotate(-338.06)"><use href="#tri"/><text class="l" x="889">LbaCER6-16</text></g>
<g transform="rotate(-340.8)"><use href="#tri"/><text class="l" x="889">LbaCER6-17</text></g>
<g transform="rotate(-343.54)"><use href="#tri"/><text class="l" x="889">LbaCER4-7</text></g>
<g transform="rotate(-346.28)"><use href="#tri"/><text class="l" x="889">LbaCER4-15</text></g>
<g transform="rotate(-349.02)"><use href="#tri"/><text class="l" x="889">LbaCER4-14</text></g>
<g transform="rotate(-351.76)"><use href="#tri"/><text class="l" x="889">LbaCER7-8</text></g>
<g transform="rotate(-354.5)"><use href="#tri"/><text class="l" x="889">LbaCER7-7</text></g>
<g transform="rotate(-357.24)"><use href="#tri"/><text class="l" x="889">LbaCER4-12</text></g>
<g transform="rotate(-359.98)"><use href="#tri"/><text class="l" x="889">LbaCER4-10</text></g>
</g>
<g id="clades">
<text class="cl" transform="translate(2200,311) rotate(30)">A</text>
<text class="cl" transform="translate(690,242) rotate(-25)">B</text>
<text class="cl" x="78" y="1338">C</text>
<text class="cl" transform="translate(423,2282) rotate(38)">D</text>
<text class="cl" transform="translate(2144,2485) rotate(-33)">E</text>
</g>
<g id="legend">
<circle cx="42" cy="54" r="20" fill="#00f"/>
<text class="lg" x="85" y="84">Arabidopsis CER protein</text>
<path d="M26 137L64 157L26 177Z" fill="#f00"/>
<text class="lg" x="85" y="175">Goji CER protein</text>
</g>
</svg>
